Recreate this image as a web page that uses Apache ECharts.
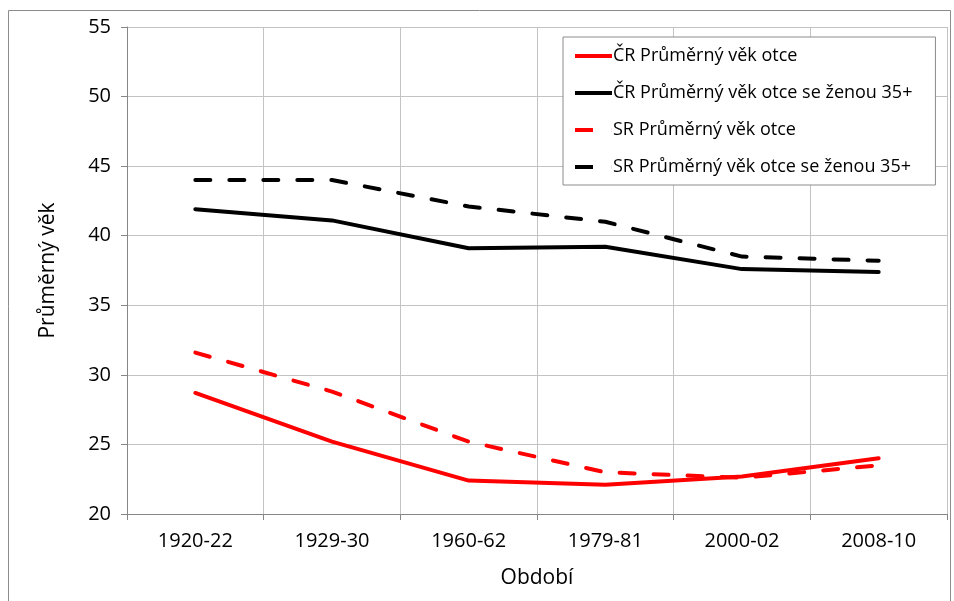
<!DOCTYPE html>
<html>
<head>
<meta charset="utf-8">
<script src="https://cdn.jsdelivr.net/npm/echarts@6/dist/echarts.min.js"></script>
<style>
  html, body { margin: 0; padding: 0; background: #fff; }
  #chart { width: 954px; height: 601px; }
</style>
</head>
<body>
<div id="chart"></div>
<script>
// období
const periods = ['1920-22', '1929-30', '1960-62', '1979-81', '2000-02', '2008-10'];
// průměrný věk otce
const crAvg = [28.7, 25.2, 22.4, 22.1, 22.7, 24.0];
const crOlder = [41.9, 41.1, 39.1, 39.2, 37.6, 37.4];
const srAvg = [31.6, 28.8, 25.2, 23.0, 22.6, 23.5];
const srOlder = [44.0, 44.0, 42.1, 41.0, 38.5, 38.2];
const seriesNames = [
  'ČR Průměrný věk otce',
  'ČR Průměrný věk otce se ženou 35+',
  'SR Průměrný věk otce',
  'SR Průměrný věk otce se ženou 35+'
];

const font = 'Open Sans';
const solidIcon = 'path://M0,0H37V4H0Z';
const dashIcon = 'path://M0,0H18V4H0ZM36.9,0H37V4H36.9Z';

function line(name, data, color, dashed) {
  return {
    name: name,
    type: 'line',
    data: data,
    symbol: 'none',
    smooth: false,
    lineStyle: {
      color: color,
      width: 4,
      type: dashed ? [15, 19] : 'solid',
      cap: 'round'
    },
    itemStyle: { color: color }
  };
}

const chart = echarts.init(document.getElementById('chart'));
chart.setOption({
  animation: false,
  backgroundColor: '#fff',
  textStyle: { fontFamily: font },
  graphic: [{
    type: 'rect',
    shape: { x: 8.5, y: 10.5, width: 942, height: 600 },
    style: { fill: 'none', stroke: '#8c8c8c', lineWidth: 1 },
    z: -1
  }],
  grid: { left: 127, right: 7, top: 27, bottom: 87 },
  legend: {
    orient: 'vertical',
    left: 563,
    top: 37,
    padding: [10, 23, 9, 12],
    itemGap: 19,
    itemWidth: 37,
    itemHeight: 4,
    borderColor: '#8c8c8c',
    borderWidth: 1,
    backgroundColor: '#fff',
    textStyle: { fontFamily: font, fontSize: 18, color: '#000', padding: [0, 0, 0, -4] },
    data: [
      { name: seriesNames[0], icon: solidIcon },
      { name: seriesNames[1], icon: solidIcon },
      { name: seriesNames[2], icon: dashIcon },
      { name: seriesNames[3], icon: dashIcon }
    ]
  },
  xAxis: {
    type: 'category',
    data: periods,
    boundaryGap: true,
    name: 'Období',
    nameLocation: 'middle',
    nameGap: 54,
    nameTextStyle: { fontFamily: font, fontSize: 21, color: '#000' },
    axisLine: { lineStyle: { color: '#868686', width: 1 } },
    axisTick: { show: true, length: 6, lineStyle: { color: '#868686' } },
    axisLabel: { fontFamily: font, fontSize: 20, color: '#000', margin: 17 },
    splitLine: { show: true, lineStyle: { color: '#c3c3c3', width: 1 } }
  },
  yAxis: {
    type: 'value',
    min: 20,
    max: 55,
    interval: 5,
    name: 'Průměrný věk',
    nameLocation: 'middle',
    nameGap: 68,
    nameTextStyle: { fontFamily: font, fontSize: 21, color: '#000' },
    axisLine: { show: true, lineStyle: { color: '#868686', width: 1 } },
    axisTick: { show: true, length: 6, lineStyle: { color: '#868686' } },
    axisLabel: { fontFamily: font, fontSize: 20, color: '#000', margin: 16 },
    splitLine: { show: true, lineStyle: { color: '#c3c3c3', width: 1 } }
  },
  series: [
    line(seriesNames[0], crAvg, '#ff0000', false),
    line(seriesNames[1], crOlder, '#000000', false),
    line(seriesNames[2], srAvg, '#ff0000', true),
    line(seriesNames[3], srOlder, '#000000', true)
  ]
});
</script>
</body>
</html>
